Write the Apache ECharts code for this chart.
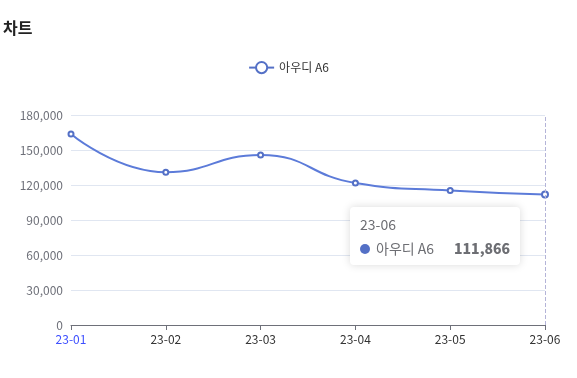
<!DOCTYPE html>
<html><head><meta charset="utf-8">
<script src="https://cdn.jsdelivr.net/npm/echarts@6/dist/echarts.min.js"></script>
<style>html,body{margin:0;padding:0;background:#fff}#c{width:577px;height:378px}</style>
</head><body><div id="c"></div>
<script>
var categories = ['23-01','23-02','23-03','23-04','23-05','23-06'];
var seriesName = '아우디 A6';
var values = [163700, 131000, 145700, 121700, 115300, 111866];
var yTicks = {min: 0, max: 180000, interval: 30000};

var FONT = '"Noto Sans CJK KR", "Noto Sans", sans-serif';
var chart = echarts.init(document.getElementById('c'));
chart.setOption({
  animation: false,
  textStyle: {fontFamily: FONT},
  title: {text: '차트', left: -2, top: 15, textStyle: {fontSize: 16, fontWeight: 'bold', color: '#222', fontFamily: FONT}},
  legend: {top: 56, left: 'center', data: [seriesName], textStyle: {fontSize: 12, color: '#333', fontFamily: FONT}},
  grid: {left: 71, right: 32, top: 115, bottom: 53},
  tooltip: {
    trigger: 'axis',
    position: [350, 207],
    borderColor: '#fff',
    borderWidth: 0,
    extraCssText: 'box-shadow: 0 0 8px rgba(0,0,0,0.15);',
    textStyle: {fontFamily: FONT},
    axisPointer: {type: 'line', lineStyle: {color: '#B4B4D8', type: 'dashed'}}
  },
  xAxis: {
    type: 'category', data: categories, boundaryGap: false,
    axisLine: {lineStyle: {color: '#6E7079'}},
    axisTick: {alignWithLabel: true},
    axisLabel: {fontSize: 12, fontFamily: FONT, color: function (v, i) { return i === 0 ? '#3d4fff' : '#333'; }}
  },
  yAxis: {
    type: 'value', min: yTicks.min, max: yTicks.max, interval: yTicks.interval,
    axisLabel: {fontSize: 12, color: '#6E7079', fontFamily: FONT},
    splitLine: {lineStyle: {color: '#E0E6F1'}}
  },
  series: [{
    name: seriesName, type: 'line', data: values, smooth: true,
    symbol: 'emptyCircle', symbolSize: 5,
    lineStyle: {width: 2, color: '#5470c6'},
    itemStyle: {color: '#5470c6'}
  }]
});
chart.dispatchAction({type: 'showTip', seriesIndex: 0, dataIndex: 5});
</script></body></html>
